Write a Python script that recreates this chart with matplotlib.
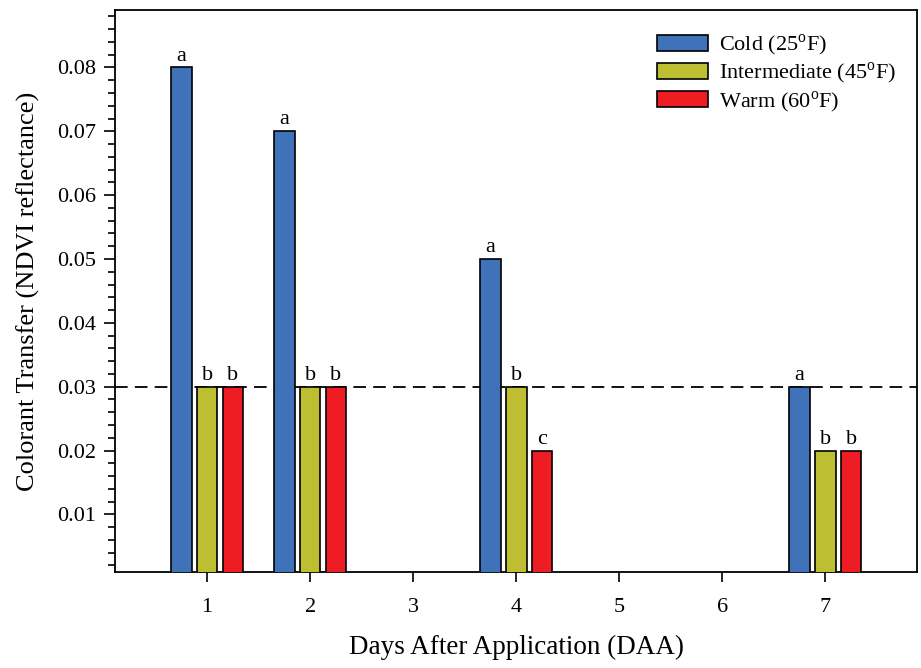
import matplotlib
matplotlib.use('Agg')
import matplotlib.pyplot as plt
from matplotlib.ticker import MultipleLocator

plt.rcParams['font.family'] = ['Liberation Serif', 'DejaVu Serif']
plt.rcParams['mathtext.fontset'] = 'custom'
plt.rcParams['mathtext.rm'] = 'Liberation Serif'

days = [1, 2, 4, 7]
cold = [0.08, 0.07, 0.05, 0.03]
intermediate = [0.03, 0.03, 0.03, 0.02]
warm = [0.03, 0.03, 0.02, 0.02]
cold_letters = ['a', 'a', 'a', 'a']
inter_letters = ['b', 'b', 'b', 'b']
warm_letters = ['b', 'b', 'c', 'b']
labels = ['Cold (25$^{\\mathrm{o}}$F)', 'Intermediate (45$^{\\mathrm{o}}$F)', 'Warm (60$^{\\mathrm{o}}$F)']
colors = ['#4072BA', '#BEBE32', '#EE1D24']

fig = plt.figure(figsize=(9.21, 6.68), dpi=100)
ax = fig.add_axes([0.125, 0.144, 0.871, 0.841])

width = 0.2
offset = 0.25
series = [(cold, cold_letters), (intermediate, inter_letters), (warm, warm_letters)]
for i, (vals, lets) in enumerate(series):
    xs = [d + (i - 1) * offset for d in days]
    ax.bar(xs, vals, width=width, color=colors[i], edgecolor='black', linewidth=1.2,
           label=labels[i], zorder=3)
    for x, v, l in zip(xs, vals, lets):
        ax.text(x, v + 0.0003, l, ha='center', va='bottom', fontsize=16)

ax.axhline(0.03, color='black', linestyle=(0, (7, 4)), linewidth=1.3, zorder=2)

ax.set_xlim(0.107, 7.893)
ax.set_ylim(0.001, 0.089)
ax.set_xticks(range(1, 8))
ax.yaxis.set_minor_locator(MultipleLocator(0.002))
ax.set_yticks([0.01 * k for k in range(1, 9)])
ax.set_yticklabels(['%.2f' % (0.01 * k) for k in range(1, 9)])
ax.tick_params(axis='both', which='major', labelsize=16, direction='out', length=8, width=1.2,
               top=False, right=False, pad=6)
ax.tick_params(axis='y', which='minor', direction='out', length=5, width=1.2)
ax.tick_params(axis='x', which='major', length=7, pad=12)
for s in ax.spines.values():
    s.set_linewidth(1.3)

ax.set_xlabel('Days After Application (DAA)', fontsize=19.5, labelpad=13)
ax.set_ylabel('Colorant Transfer (NDVI reflectance)', fontsize=19, labelpad=12)

leg = ax.legend(loc='upper right', frameon=False, fontsize=16, handlelength=2.3, handleheight=0.75,
                handletextpad=0.5, labelspacing=0.12, borderaxespad=0,
                bbox_to_anchor=(0.985, 0.975))

fig.savefig('out.png', dpi=100)
